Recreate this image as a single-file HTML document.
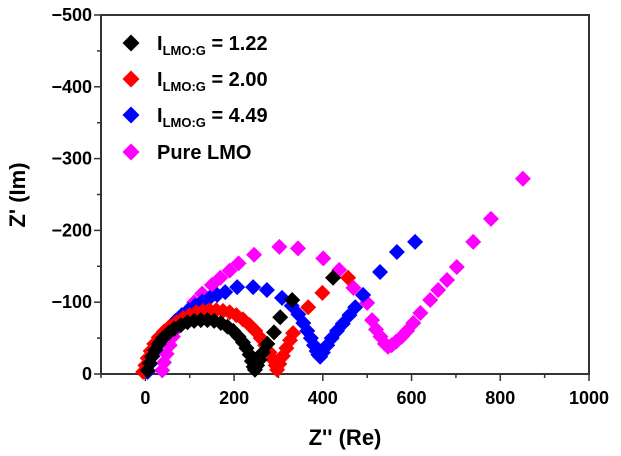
<!DOCTYPE html>
<html><head><meta charset="utf-8"><style>
html,body{margin:0;padding:0;background:#fff}
svg text{font-family:"Liberation Sans",Arial,sans-serif;font-weight:bold}
</style></head><body>
<svg id="chart" width="621" height="451" viewBox="0 0 621 451" xmlns="http://www.w3.org/2000/svg">
<g id="plot"></g>
</svg>
<script>
const xTicks=[0,200,400,600,800,1000];
const yTicks=[0,-100,-200,-300,-400,-500];
const seriesNames=["I_LMO:G = 1.22","I_LMO:G = 2.00","I_LMO:G = 4.49","Pure LMO"];
const blackRe=[5,10,15,22,30,40,52,65,80,95,110,125,140,155,170,185,198,210,220,228,235,240,244,247,252,258,265,275,290,304,331,423];
const blackIm=[5,15,24,33,42,50,57,63,68,72,74,75,75,74,71,66,60,52,44,36,27,18,10,6,12,20,30,42,58,79,103,134];
const redRe=[-5,0,5,12,20,30,42,55,70,85,100,115,130,145,160,175,190,205,220,235,248,260,270,280,288,294,297,302,310,318,326,333,367,399,457];
const redIm=[3,12,22,32,42,51,59,66,72,78,82,86,88,89,89,88,86,82,76,68,60,50,40,30,20,12,6,14,25,36,47,57,93,113,134];
const blueRe=[5,10,16,24,33,43,55,68,82,97,112,128,145,162,180,207,243,274,308,330,345,356,365,373,380,386,390,394,400,410,420,432,445,460,473,491,529,567,608];
const blueIm=[3,14,25,36,46,56,65,74,82,89,95,101,106,110,114,121,121,117,106,95,83,71,60,50,40,32,27,24,30,40,50,60,70,82,93,110,142,170,184];
const pinkRe=[38,42,48,55,62,72,82,95,110,128,150,169,190,210,245,302,344,401,437,469,490,500,511,520,530,540,547,555,565,578,590,604,620,642,660,680,702,739,779,851];
const pinkIm=[5,16,28,40,52,64,76,88,100,112,124,134,144,154,166,177,175,161,145,120,110,99,75,62,52,42,38,40,45,52,60,71,85,103,117,131,149,184,216,272];

const NS="http://www.w3.org/2000/svg";
const X0=101,X1=589,Y0=374,Y1=15;
const xs=v=>X0+(v+100)/1100*(X1-X0);
const ys=v=>Y0+(v/500)*(Y0-Y1);
const g=document.getElementById('plot');
function mk(t,a){const e=document.createElementNS(NS,t);for(const k in a)e.setAttribute(k,a[k]);g.appendChild(e);return e;}
function diamond(cx,cy,r,fill){return mk('polygon',{points:`${cx},${cy-r} ${cx+r},${cy} ${cx},${cy+r} ${cx-r},${cy}`,fill:fill});}

const fr=mk('rect',{x:X0,y:Y1,width:X1-X0,height:Y0-Y1,fill:'none',stroke:'#333','stroke-width':2});


for(let v=-100;v<=1000;v+=100){
  const major=v%200===0;
  const t=mk('line',{x1:xs(v),x2:xs(v),y1:Y0,y2:Y0+(major?7:4),stroke:'#333','stroke-width':1.5});
  
  
}
xTicks.forEach(v=>{
  const t=mk('text',{x:xs(v),y:Y0+30,'text-anchor':'middle','font-size':18,fill:'#000'});
  t.textContent=v;
  
  
});
for(let v=0;v>=-500;v-=50){
  const major=v%100===0;
  const t=mk('line',{x1:X0,x2:X0-(major?7:4),y1:ys(v),y2:ys(v),stroke:'#333','stroke-width':1.5});
  
  
}
yTicks.forEach(v=>{
  const t=mk('text',{x:X0-9,y:ys(v)+6,'text-anchor':'end','font-size':18,fill:'#000'});
  t.textContent=v===0?'0':'\u2212'+Math.abs(v);
  
  
});
const xt=mk('text',{x:345,y:445,'text-anchor':'middle','font-size':22,fill:'#000'});
xt.textContent="Z'' (Re)";


const yt=mk('text',{x:0,y:0,'text-anchor':'middle','font-size':22,fill:'#000',transform:'translate(25,195) rotate(-90)'});
yt.textContent="Z' (Im)";



const colors=['#000000','#ff0000','#0000ff','#ff00ff'];
const data=[[blackRe,blackIm],[redRe,redIm],[blueRe,blueIm],[pinkRe,pinkIm]];
[3,2,1,0].forEach(i=>{
  const [re,im]=data[i];
  re.forEach((v,j)=>{
    const d=diamond(xs(v),ys(-im[j]),8,colors[i]);
    
    
  });
});
const ly=[43,79,115,152];
seriesNames.forEach((n,i)=>{
  const d=diamond(131,ly[i],8.5,colors[i]);
  
  
  const t=mk('text',{x:157,y:ly[i]+7,'font-size':20,fill:'#000'});
  
  
  if(n.startsWith('I_')){
    const parts=n.split(' = ');
    const a=document.createElementNS(NS,'tspan');a.textContent='I';t.appendChild(a);
    const b=document.createElementNS(NS,'tspan');b.setAttribute('font-size',13);b.setAttribute('dy',5);b.textContent='LMO:G';t.appendChild(b);
    const c=document.createElementNS(NS,'tspan');c.setAttribute('dy',-5);c.textContent=' = '+parts[1];t.appendChild(c);
  } else t.textContent=n;
});
</script>
</body></html>
